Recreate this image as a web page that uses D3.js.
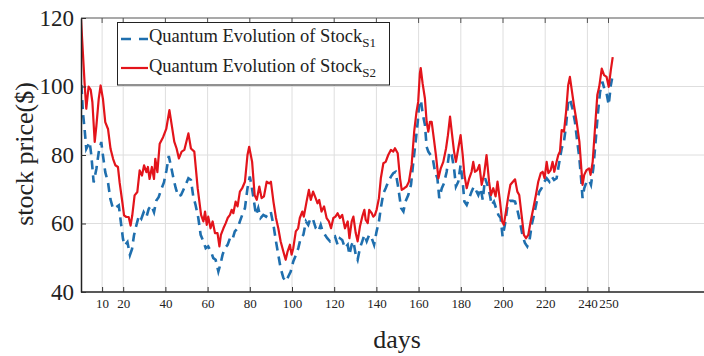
<!DOCTYPE html>
<html>
<head>
<meta charset="utf-8">
<script src="https://cdn.jsdelivr.net/npm/d3@7"></script>
<style>
  body { margin: 0; background: #fff; }
  svg { display: block; font-family: "Liberation Serif", "Times New Roman", serif; }
</style>
</head>
<body>
<svg id="chart" width="704" height="356"></svg>
<script>
// tick labels
var xTicks = [10, 20, 40, 60, 80, 100, 120, 140, 160, 180, 200, 220, 240, 250];
var yTicks = [40, 60, 80, 100, 120];
var seriesNames = ["S1", "S2"];

// S1 (blue dashed)
var daysS1 = [0.2, 0.9, 1.7, 2.5, 3.3, 4.1, 4.9, 6, 7.3, 8.4, 9.6, 10.4, 11.5, 12.8, 13.9, 15.2, 16.7, 17.9, 19.1, 19.9,
  20.7, 22, 23.2, 24.2, 25.1, 26.2, 27.5, 28.6, 29.7, 31, 32.1, 33.3, 34.6, 35.7, 36.8, 38.1, 39.3, 40.5, 41.6, 42.7,
  43.8, 44.9, 46.1, 47.4, 48.5, 49.6, 50.9, 52.1, 53.2, 54.3, 55.6, 56.7, 58, 59.1, 60.3, 61.6, 62.7, 63.8, 65.1, 66.2,
  67.1, 68.2, 69.5, 70.6, 71.7, 72.9, 74.2, 75.3, 76.4, 77.7, 78.9, 80, 80.9, 82, 82.9, 84, 85.1, 86.4, 87.7, 88.8,
  89.9, 91.2, 92.4, 93.5, 94.6, 95.9, 97.2, 98.3, 99.4, 100.6, 101.9, 103, 104.1, 105.4, 106.6, 107.7, 108.8, 110, 111.3, 112.5,
  113.6, 114.5, 115.6, 116.7, 118, 119.3, 120.4, 121.6, 122.7, 123.8, 125.1, 126.4, 127.2, 128.3, 129.1, 130.2, 131.1, 132.2, 133.3, 134.3,
  135.4, 136.6, 137.8, 138.9, 140.1, 141.2, 142.1, 143.3, 144.4, 145.6, 146.9, 148, 149.1, 150.4, 151.7, 152.8, 153.8, 155.1, 156.4, 157.5,
  158.6, 159.6, 160.3, 161.1, 161.9, 163, 163.8, 164.6, 165.7, 166.7, 167.8, 168.9, 169.8, 171, 172, 173.3, 174.6, 175.7, 176.8, 177.7,
  178.8, 179.9, 180.9, 181.7, 182.8, 184, 185.1, 186.2, 187.1, 188.3, 189.4, 190.4, 191.5, 192.6, 193.8, 194.6, 195.7, 196.7, 197.8, 198.9,
  199.8, 200.9, 202, 203.3, 204.6, 205.7, 206.8, 208, 209.2, 210.4, 211.5, 212.5, 213.6, 214.7, 216, 217.2, 218.3, 219.6, 220.7, 222,
  223.1, 224.2, 225.4, 226.7, 227.8, 228.9, 229.9, 230.9, 231.7, 232.9, 234.1, 235.2, 236.2, 237, 237.7, 238.5, 239.6, 240.8, 241.7, 242.8,
  243.9, 244.9, 246, 247.1, 248, 249.1, 250.1, 251.1, 251.7];
var priceS1 = [100.4, 92.5, 87.6, 81.8, 82.8, 83.8, 79.9, 72, 76, 80.8, 83.8, 79.9, 75, 72, 67.2, 64.3, 64.8, 65.3, 59.4, 55.5,
  53.6, 54.6, 50.8, 52.6, 56.5, 59.4, 62.4, 61.4, 63.3, 61.9, 64.3, 65.3, 63.3, 66.7, 67.7, 70.1, 72, 75.5, 79.7, 76.6,
  73.2, 70.3, 67.9, 68.3, 69.8, 71.3, 73.2, 72.7, 67.9, 65.4, 61.6, 56.7, 54.8, 52.8, 53.3, 51.8, 49.9, 49.4, 46, 48.4,
  50.9, 52.8, 53.8, 55.7, 55.2, 57.7, 58.6, 60.6, 62.5, 64.5, 70.3, 73.7, 70.8, 66.4, 62.5, 64.5, 61.6, 62.5, 62, 63,
  63.5, 59.6, 54.8, 50.9, 47, 44.1, 43.1, 44.6, 46, 48.9, 50.9, 52.8, 55.7, 56.7, 60.6, 59.6, 61.6, 61.1, 58.6, 57.7,
  59.6, 57.7, 56.7, 55.7, 54.8, 55.7, 56.2, 53.8, 55.7, 55.2, 52.8, 53.8, 50.9, 53.8, 54.8, 50.9, 49.4, 52.8, 54.8, 56.7,
  54.8, 56.7, 55.7, 53.8, 57.7, 60.6, 64.5, 68.8, 70.3, 72.2, 73.7, 74.7, 75.1, 70.3, 64.5, 63.5, 66.4, 68.3, 71.3, 78,
  83.9, 89.7, 95, 96, 92.2, 88.8, 82.4, 81, 80, 79, 75.1, 73.2, 67.4, 70.3, 71.7, 75.1, 81, 80, 76.1, 70.8,
  72.2, 77.1, 72.2, 66.4, 65.4, 67.4, 69.3, 70.8, 69.8, 68.3, 70.3, 66.9, 73.2, 71.3, 68.3, 65.4, 66.4, 64.5, 62.5, 61.6,
  56.2, 59.6, 64.5, 66.6, 66.6, 66.4, 64, 60.6, 56.7, 54.3, 53.3, 54.8, 59.6, 62.5, 66.4, 69.3, 70.3, 72.2, 73.2, 72.2,
  73.7, 72.7, 73.2, 78, 81.9, 83.9, 88.7, 95.5, 96.5, 93.6, 89.7, 83.9, 79, 73.2, 67.4, 70.3, 72.2, 72.7, 71.3, 76.1,
  83.9, 91.7, 98.4, 101.4, 99.4, 98, 94.6, 100.4, 102.3];

// S2 (red solid)
var daysS2 = [0, 1.7, 2.5, 3.6, 4.6, 5.4, 6.5, 7.3, 8.4, 9.3, 10.4, 11.5, 12.8, 14, 15.2, 16.3, 17.5, 18.3, 19.6, 20.4,
  21.5, 22.6, 23.5, 24.3, 25.4, 26.7, 27.8, 28.9, 29.9, 31, 31.7, 32.5, 33.6, 34.6, 35.2, 36.2, 37.3, 38.9, 40.4, 41.9,
  43, 44.2, 45.3, 46.4, 47.7, 49, 50.9, 52.1, 53.7, 55.3, 56.9, 58, 58.8, 59.6, 60.3, 61.4, 62.4, 63.5, 64.7, 65.6,
  66.3, 67.5, 68.6, 69.5, 70.6, 71.4, 72.2, 73.3, 74.2, 75.3, 76.4, 77.7, 78.9, 79.7, 81.1, 82.3, 83.3, 84.5, 85.6, 86.7,
  88, 89.2, 90, 91.2, 92.4, 93.5, 94.6, 95.9, 97, 97.9, 99, 99.8, 100.6, 101.8, 102.9, 103.7, 104.9, 105.6, 106.9, 108,
  108.9, 110, 111.2, 112.1, 112.9, 114, 115.2, 116.4, 117.5, 118.5, 119.6, 120.6, 121.6, 122.7, 123.8, 125.1, 126.4, 127.2, 128.3, 129.1,
  130.2, 131.1, 132.2, 133.3, 134.3, 134.9, 135.9, 136.6, 137.8, 138.5, 139.3, 140.1, 141.2, 142.1, 143.3, 144.4, 145.6, 146.9, 148, 148.8,
  150.1, 151.2, 152, 153.2, 154.3, 155.4, 156.7, 157.9, 159, 159.8, 160.6, 161, 161.9, 163, 163.8, 164.6, 165.4, 166.2, 167.3, 168.2,
  169.4, 170.5, 171.7, 173, 173.9, 174.9, 175.8, 176.8, 177.7, 178.8, 179.9, 180.9, 181.7, 182.8, 184, 185.1, 185.9, 186.7, 187.8, 188.8,
  189.9, 191, 192.2, 193.4, 194.3, 195.4, 196.5, 197.4, 198.6, 199.6, 200.4, 201.4, 202.5, 203.5, 204.7, 205.7, 206.8, 207.7, 208.8, 209.9,
  210.9, 212, 213.1, 214.4, 215.6, 216.7, 217.9, 218.8, 219.7, 220.7, 221.5, 222.6, 223.5, 224.3, 225.4, 226.2, 227, 227.8, 228.9, 229.9,
  230.9, 231.7, 232.5, 233.6, 234.9, 236.2, 237, 237.7, 238.5, 239.6, 240.8, 241.5, 242.5, 243.6, 244.7, 245.6, 246.8, 247.9, 249.1, 250.1,
  251.1, 252];
var priceS2 = [119.7, 101, 93.5, 100, 99, 95.4, 83.8, 88.6, 96.4, 100.3, 96.4, 89.6, 87.6, 81.8, 78.9, 77, 76.5, 72, 66.2, 62.4,
  61.9, 61.9, 59.4, 62.4, 68.2, 69.2, 75.5, 74, 77, 75, 76.5, 73, 76.5, 73, 78.9, 75, 83.3, 85.2, 87.6, 93.1,
  88.7, 83.9, 81.9, 79, 81, 81.5, 86.3, 81.9, 81, 70.3, 62.5, 60.6, 63.5, 59.6, 62, 58.6, 60.6, 57.2, 57.2, 53.3,
  56.7, 58.6, 60.1, 61.6, 62.5, 64, 63, 66.4, 65, 69.3, 70.3, 72.2, 80, 82.4, 78, 68.3, 66.9, 70.8, 67.4, 67.9,
  72.2, 71.7, 72.2, 66.4, 61.6, 58.6, 54.8, 51.8, 49.4, 51.8, 53.8, 50.9, 52.8, 57.7, 58.6, 61.6, 63.5, 62, 66.4, 69.8,
  66.9, 69.3, 67.4, 65.9, 66.9, 63.5, 65, 61.6, 60.6, 58.6, 61.6, 62, 63, 61.6, 62.5, 58.6, 60.6, 55.7, 60.6, 62,
  57.2, 54.8, 59.1, 62, 64, 61.1, 60.1, 64, 63, 62, 62.5, 64, 67.4, 73.2, 77.6, 78, 80, 81.5, 81, 82,
  80.5, 73.2, 69.8, 70.3, 70.8, 72.2, 77.1, 86.8, 92.6, 95.5, 103.8, 105.4, 100.9, 96.5, 89.7, 86.8, 89.7, 89.7, 84.4, 80,
  73.2, 76.1, 78, 81.9, 85.8, 91.2, 86.3, 81, 78, 81.9, 85.8, 80, 74.2, 70.3, 73.2, 75.1, 78, 75.1, 75.6, 77.1,
  71.3, 74.2, 80, 72.2, 68.3, 70.3, 67.9, 72.2, 66.4, 60.6, 59.6, 63.5, 67.9, 71.3, 72.2, 72.9, 69.3, 68.3, 62.5, 56.7,
  55.7, 56.7, 60.6, 64.5, 68.3, 72.2, 74.7, 75.1, 73.2, 78, 74.7, 75.6, 78, 75.1, 78, 80, 81, 87.3, 86.8, 92.6,
  100.4, 102.8, 99.4, 94.6, 89.7, 83.9, 77.1, 71.3, 74.2, 75.6, 76.1, 74.2, 78, 87.8, 97.5, 99.9, 105.2, 103.3, 102.8, 99.9,
  104.8, 108.6];

var svg = d3.select("#chart");
var plotLeft = 81, plotTop = 18, plotBottom = 292, plotRight = 704;

var x = d3.scaleLinear().domain([0, 300]).range([plotLeft, plotLeft + 300 * 2.11]);
var y = d3.scaleLinear().domain([40, 120]).range([plotBottom, plotTop]);

// grid
var grid = svg.append("g").attr("stroke", "#dedede").attr("stroke-width", 1);
grid.selectAll(".vg").data(xTicks).enter().append("line")
  .attr("x1", function(d) { return x(d); }).attr("x2", function(d) { return x(d); })
  .attr("y1", plotTop).attr("y2", plotBottom);
grid.selectAll(".hg").data(yTicks.slice(1, -1)).enter().append("line")
  .attr("x1", plotLeft).attr("x2", plotRight)
  .attr("y1", function(d) { return y(d); }).attr("y2", function(d) { return y(d); });

// top box edge with inward ticks
svg.append("line").attr("x1", plotLeft).attr("x2", plotRight).attr("y1", plotTop).attr("y2", plotTop)
  .attr("stroke", "#555").attr("stroke-width", 1.2);
svg.append("g").selectAll("line").data(xTicks).enter().append("line")
  .attr("x1", function(d) { return x(d); }).attr("x2", function(d) { return x(d); })
  .attr("y1", plotTop).attr("y2", plotTop + 5).attr("stroke", "#555");

// lines
svg.append("clipPath").attr("id", "clip").append("rect")
  .attr("x", plotLeft).attr("y", plotTop - 2).attr("width", plotRight - plotLeft).attr("height", plotBottom - plotTop + 2);

var line = d3.line()
  .x(function(d) { return x(d[0]); })
  .y(function(d) { return y(d[1]); });

var s1 = d3.zip(daysS1, priceS1);
var s2 = d3.zip(daysS2, priceS2);

var plot = svg.append("g").attr("clip-path", "url(#clip)");
plot.append("path").datum(s1)
  .attr("fill", "none").attr("stroke", "#1f6fae").attr("stroke-width", 2.6)
  .attr("stroke-dasharray", "9,6").attr("d", line);
plot.append("path").datum(s2)
  .attr("fill", "none").attr("stroke", "#e3141b").attr("stroke-width", 2.2)
  .attr("stroke-linejoin", "round").attr("d", line);

// axes
var xAxis = svg.append("g").attr("transform", "translate(0," + plotBottom + ")")
  .call(d3.axisBottom(x).tickValues(xTicks).tickSizeInner(-5).tickSizeOuter(0).tickPadding(7));
xAxis.select(".domain").attr("d", "M" + plotLeft + ",0H" + plotRight).attr("stroke", "#222").attr("stroke-width", 1.5);
xAxis.selectAll(".tick line").attr("stroke", "#333");
xAxis.selectAll("text").attr("font-size", 13).attr("font-family", "Liberation Serif, serif").attr("fill", "#222");

var yAxis = svg.append("g").attr("transform", "translate(" + plotLeft + ",0)")
  .call(d3.axisLeft(y).tickValues(yTicks).tickSizeInner(-5).tickSizeOuter(0).tickPadding(7));
yAxis.select(".domain").attr("stroke", "#222").attr("stroke-width", 1.5);
yAxis.selectAll(".tick line").attr("stroke", "#333");
yAxis.selectAll("text").attr("font-size", 23).attr("font-family", "Liberation Serif, serif").attr("fill", "#222");

// axis titles
svg.append("text").attr("x", 397).attr("y", 348).attr("text-anchor", "middle")
  .attr("font-size", 26).attr("fill", "#222").text("days");
svg.append("text").attr("transform", "translate(33,154) rotate(-90)").attr("text-anchor", "middle")
  .attr("font-size", 26).attr("fill", "#222").text("stock price($)");

// legend
var legend = svg.append("g");
legend.append("rect").attr("x", 117.5).attr("y", 22.5).attr("width", 272).attr("height", 62.5)
  .attr("fill", "#fff").attr("stroke", "#222").attr("stroke-width", 1);
var rows = [
  { name: seriesNames[0], color: "#1f6fae", dash: "10,8", w: 2.6, ly: 39, ty: 41.5 },
  { name: seriesNames[1], color: "#e3141b", dash: null, w: 2.2, ly: 68, ty: 71.5 }
];
rows.forEach(function(r) {
  legend.append("line").attr("x1", 121).attr("x2", 148).attr("y1", r.ly).attr("y2", r.ly)
    .attr("stroke", r.color).attr("stroke-width", r.w).attr("stroke-dasharray", r.dash);
  var t = legend.append("text").attr("x", 149).attr("y", r.ty).attr("font-size", 18.5).attr("fill", "#222");
  t.append("tspan").text("Quantum Evolution of Stock");
  t.append("tspan").attr("font-size", 13).attr("dy", 5).text(r.name);
});
</script>
</body>
</html>
